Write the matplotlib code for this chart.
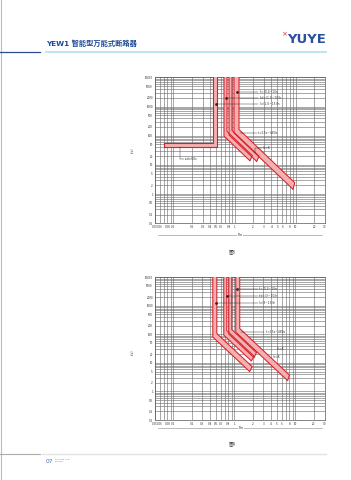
import numpy as np
import matplotlib
matplotlib.use('Agg')
import matplotlib.pyplot as plt
from matplotlib.ticker import LogLocator, NullFormatter
from matplotlib.lines import Line2D

plt.rcParams['font.family'] = ['Noto Sans CJK SC', 'DejaVu Sans']

# ---------------- data ----------------
x_ticks = [0.05, 0.06, 0.08, 0.1, 0.2, 0.3, 0.4, 0.5, 0.6, 0.8, 1, 2, 3, 4, 5, 6, 8, 10, 20, 30]
x_tick_labels = ['0.05', '0.06', '0.08', '0.1', '0.2', '0.3', '0.4', '0.5', '0.6', '0.8',
                 '1', '2', '3', '4', '5', '6', '8', '10', '20', '30']
y_ticks = [10000, 5000, 2000, 1000, 500, 200, 100, 50, 20, 10, 5, 2, 1, 0.5, 0.2, 0.1]
y_tick_labels = ['10000', '5000', '2000', '1000', '500', '200', '100', '50', '20', '10',
                 '5', '2', '1', '0.5', '0.2', '0.1']

# Figure 3 - definite-time (L-shaped) band
fig3_def_x = [0.07, 0.443, 0.516]     # left end, inner vertical, outer vertical (I/In)
fig3_def_t = [56, 41]                 # upper / lower time (s)
# Figure 3 - inverse-time (I^2 t = K) bands
fig3_pick_lo = [0.67, 0.81, 0.977]
fig3_pick_hi = [0.751, 0.906, 1.18]
fig3_knee_lo = [97.7, 105.7, 124]
fig3_knee_hi = [140, 152, 163]
fig3_end_lo = [1.78, 2.3, 9.0]
fig3_end_hi = [1.95, 2.5, 9.6]

# Figure 4 - inverse-time bands
fig4_pick_lo = [0.443, 0.67, 0.81, 1.053]
fig4_pick_hi = [0.516, 0.751, 0.906, 1.224]
fig4_knee_lo = [80.4, 94.4, 102.6, 120.5]
fig4_knee_hi = [106.7, 135, 148, 160]
fig4_end_lo = [1.78, 1.9, 2.1, 7.45]
fig4_end_hi = [1.95, 2.1, 2.3, 8.0]

fig3_notes = ['Ir=(0.4~1)In', 'Isd=(1.5~15)Ir', 'Ii=(1.0~15)In']
fig4_notes = ['Ir=(0.4~1)In', 'Isd=(3~15)Ir', 'Ii=(3~15)Ir']

# ---------------- style ----------------
RED = '#d8202a'
PINK = '#f4b0b0'
GRID = '#6e6e6e'
W, H = 351, 480

fig = plt.figure(figsize=(W / 100, H / 100), dpi=100)
fig.patch.set_facecolor('white')


def fx(px):
    return px / W


def fy(py):
    return 1 - py / H


def curve(a, T, xend, n=2, ttop=1e5):
    xs = np.geomspace(a, xend, 60)
    ts = T * (a / xs) ** n
    return np.r_[a, xs], np.r_[ttop, ts]


def band(ax, a1, T1, e1, a2, T2, e2, n=2):
    x1, t1 = curve(a1, T1, e1, n)
    x2, t2 = curve(a2, T2, e2, n)
    ax.fill(np.r_[x1, x2[::-1]], np.r_[t1, t2[::-1]], color=PINK, lw=0, zorder=3)
    ax.plot(x1, t1, color=RED, lw=0.75, zorder=4, solid_capstyle='butt')
    ax.plot(x2, t2, color=RED, lw=0.75, zorder=4, solid_capstyle='butt')
    ax.plot([x1[-1], x2[-1]], [t1[-1], t2[-1]], color=RED, lw=0.75, zorder=4)


def setup(ax):
    ax.set_xscale('log')
    ax.set_yscale('log')
    ax.set_xlim(0.05, 30)
    ax.set_ylim(0.1, 10000)
    ax.set_xticks(x_ticks)
    ax.set_xticklabels(x_tick_labels)
    ax.set_yticks(y_ticks)
    ax.set_yticklabels(y_tick_labels)
    ax.xaxis.set_minor_locator(LogLocator(base=10, subs=np.arange(1, 10)))
    ax.yaxis.set_minor_locator(LogLocator(base=10, subs=np.arange(1, 10)))
    ax.xaxis.set_minor_formatter(NullFormatter())
    ax.yaxis.set_minor_formatter(NullFormatter())
    ax.tick_params(which='both', length=0, labelsize=2.2, colors='#333333', pad=1.5)
    ax.grid(True, which='both', color=GRID, lw=0.42, zorder=1)
    ax.set_axisbelow(True)
    for s in ax.spines.values():
        s.set_color('#555555')
        s.set_linewidth(0.5)


def leader(ax, pts):
    xs, ys = zip(*pts)
    ax.plot(xs, ys, color='#222222', lw=0.3, zorder=5)


# ---------------- header / footer ----------------
fig.add_artist(Line2D([0.002, 0.002], [0, 1], color='#bbbbbb', lw=0.8))
fig.add_artist(Line2D([fx(0), fx(40)], [fy(52.2), fy(52.2)], color='#2b4c8c', lw=0.9))
fig.add_artist(Line2D([fx(46), fx(326)], [fy(52.2), fy(52.2)], color='#a9dcee', lw=1.1))
fig.text(fx(46.5), fy(43.5), 'YEW1 智能型万能式断路器', fontsize=5.2, fontweight='bold',
         color='#1f4a96', ha='left', va='center', family=['DejaVu Sans', 'Noto Sans CJK SC'])
fig.text(fx(326), fy(39.5), 'YUYE', fontsize=9.5, fontweight='bold', color='#2a50a0',
         ha='right', va='center', family=['DejaVu Sans'])
fig.text(fx(284), fy(34), '×', fontsize=5, color='#e0303a', ha='center', va='center',
         family=['DejaVu Sans'])

fig.add_artist(Line2D([fx(0), fx(40)], [fy(453.5), fy(453.5)], color='#aaaaaa', lw=0.8))
fig.add_artist(Line2D([fx(42), fx(326)], [fy(453.5), fy(453.5)], color='#e3e3e3', lw=1.0))
fig.text(fx(46), fy(461.5), '07', fontsize=4.2, color='#4a6fb5', ha='left', va='center',
         family=['DejaVu Sans'])
fig.text(fx(54.5), fy(459.3), 'ZHEJIANG YUYE', fontsize=1.4, color='#777777', ha='left',
         va='center', family=['DejaVu Sans'])
fig.text(fx(54.5), fy(462.0), 'ELECTRIC', fontsize=1.4, color='#777777', ha='left',
         va='center', family=['DejaVu Sans'])

# ---------------- chart 3 ----------------
ax1 = fig.add_axes([fx(155), fy(223.3), fx(325) - fx(155), fy(77.3) - fy(223.3)])
setup(ax1)
x0, xi, xo = fig3_def_x
tu, tl = fig3_def_t
poly_x = [x0, xi, xi, xo, xo, x0, x0]
poly_y = [tu, tu, 1e5, 1e5, tl, tl, tu]
ax1.fill(poly_x, poly_y, color=PINK, lw=0, zorder=3)
ax1.plot([x0, xi, xi], [tu, tu, 1e5], color=RED, lw=0.8, zorder=4)
ax1.plot([x0, xo, xo], [tl, tl, 1e5], color=RED, lw=0.8, zorder=4)
ax1.plot([x0, x0], [tl, tu], color=RED, lw=0.8, zorder=4)
for i in range(3):
    band(ax1, fig3_pick_lo[i], fig3_knee_lo[i], fig3_end_lo[i],
         fig3_pick_hi[i], fig3_knee_hi[i], fig3_end_hi[i])

note_y1 = [3212, 2000, 1230]
note_x1 = [1.11, 0.72, 0.497]
for k in range(3):
    ax1.plot(note_x1[k], note_y1[k], 'o', ms=0.9, color='#222222', zorder=6)
    leader(ax1, [(note_x1[k], note_y1[k]), (2.45, note_y1[k])])
    ax1.text(2.55, note_y1[k], fig3_notes[k], fontsize=2.2, ha='left', va='center',
             color='#333333', zorder=6, family=['DejaVu Sans'])
leader(ax1, [(1.22, 124), (2.35, 124)])
ax1.text(2.45, 124, 'tr=15s~480s', fontsize=2.2, ha='left', va='center', color='#333333',
         zorder=6, family=['DejaVu Sans'])
leader(ax1, [(2.15, 25.5), (2.15, 38.8), (2.8, 38.8)])
ax1.text(2.9, 38.8, 'I²t=K', fontsize=2.2, ha='left', va='center', color='#333333',
         zorder=6, family=['DejaVu Sans'])
leader(ax1, [(0.128, 41), (0.128, 15.9), (0.15, 15.9)])
ax1.text(0.156, 15.9, 'tsd=60s', fontsize=2.2, ha='left', va='center', color='#333333',
         zorder=6, family=['DejaVu Sans'])

fig.text(fx(133), fy(150), 't(s)', fontsize=2.4, rotation=90, ha='center', va='center',
         color='#333333', family=['DejaVu Sans'])
fig.add_artist(Line2D([fx(158), fx(322)], [fy(234.5), fy(234.5)], color='#888888', lw=0.4))
fig.text(fx(240), fy(234.5), 'I/In', fontsize=2.4, ha='center', va='center', color='#333333',
         family=['DejaVu Sans'], bbox=dict(facecolor='white', edgecolor='none', pad=0.6))
fig.text(fx(232), fy(252), '图3', fontsize=3.2, ha='center', va='center', color='#333333')

# ---------------- chart 4 ----------------
ax2 = fig.add_axes([fx(155), fy(420), fx(324.5) - fx(155), fy(277.3) - fy(420)])
setup(ax2)
for i in range(4):
    band(ax2, fig4_pick_lo[i], fig4_knee_lo[i], fig4_end_lo[i],
         fig4_pick_hi[i], fig4_knee_hi[i], fig4_end_hi[i])
note_y2 = [3793, 2208, 1225]
note_x2 = [1.11, 0.758, 0.497]
for k in range(3):
    ax2.plot(note_x2[k], note_y2[k], 'o', ms=0.9, color='#222222', zorder=6)
    leader(ax2, [(note_x2[k], note_y2[k]), (2.45, note_y2[k])])
    ax2.text(2.55, note_y2[k], fig4_notes[k], fontsize=2.2, ha='left', va='center',
             color='#333333', zorder=6, family=['DejaVu Sans'])
leader(ax2, [(1.29, 120), (3.1, 120)])
ax2.text(3.25, 120, 'tr=15s~480s', fontsize=2.2, ha='left', va='center', color='#333333',
         zorder=6, family=['DejaVu Sans'])
ax2.text(4.9, 30.5, 'I²t=K', fontsize=2.2, ha='left', va='center', color='#333333',
         zorder=6, family=['DejaVu Sans'])
ax2.text(4.25, 16, 'I⁴t=K', fontsize=2.2, ha='left', va='center', color='#333333',
         zorder=6, family=['DejaVu Sans'])

fig.text(fx(133), fy(352), 't(s)', fontsize=2.4, rotation=90, ha='center', va='center',
         color='#333333', family=['DejaVu Sans'])
fig.add_artist(Line2D([fx(158), fx(322)], [fy(427.7), fy(427.7)], color='#888888', lw=0.4))
fig.text(fx(241), fy(427.7), 'I/In', fontsize=2.4, ha='center', va='center', color='#333333',
         family=['DejaVu Sans'], bbox=dict(facecolor='white', edgecolor='none', pad=0.6))
fig.text(fx(232), fy(444), '图4', fontsize=3.2, ha='center', va='center', color='#333333')

fig.savefig('out.png', dpi=100, facecolor='white')
